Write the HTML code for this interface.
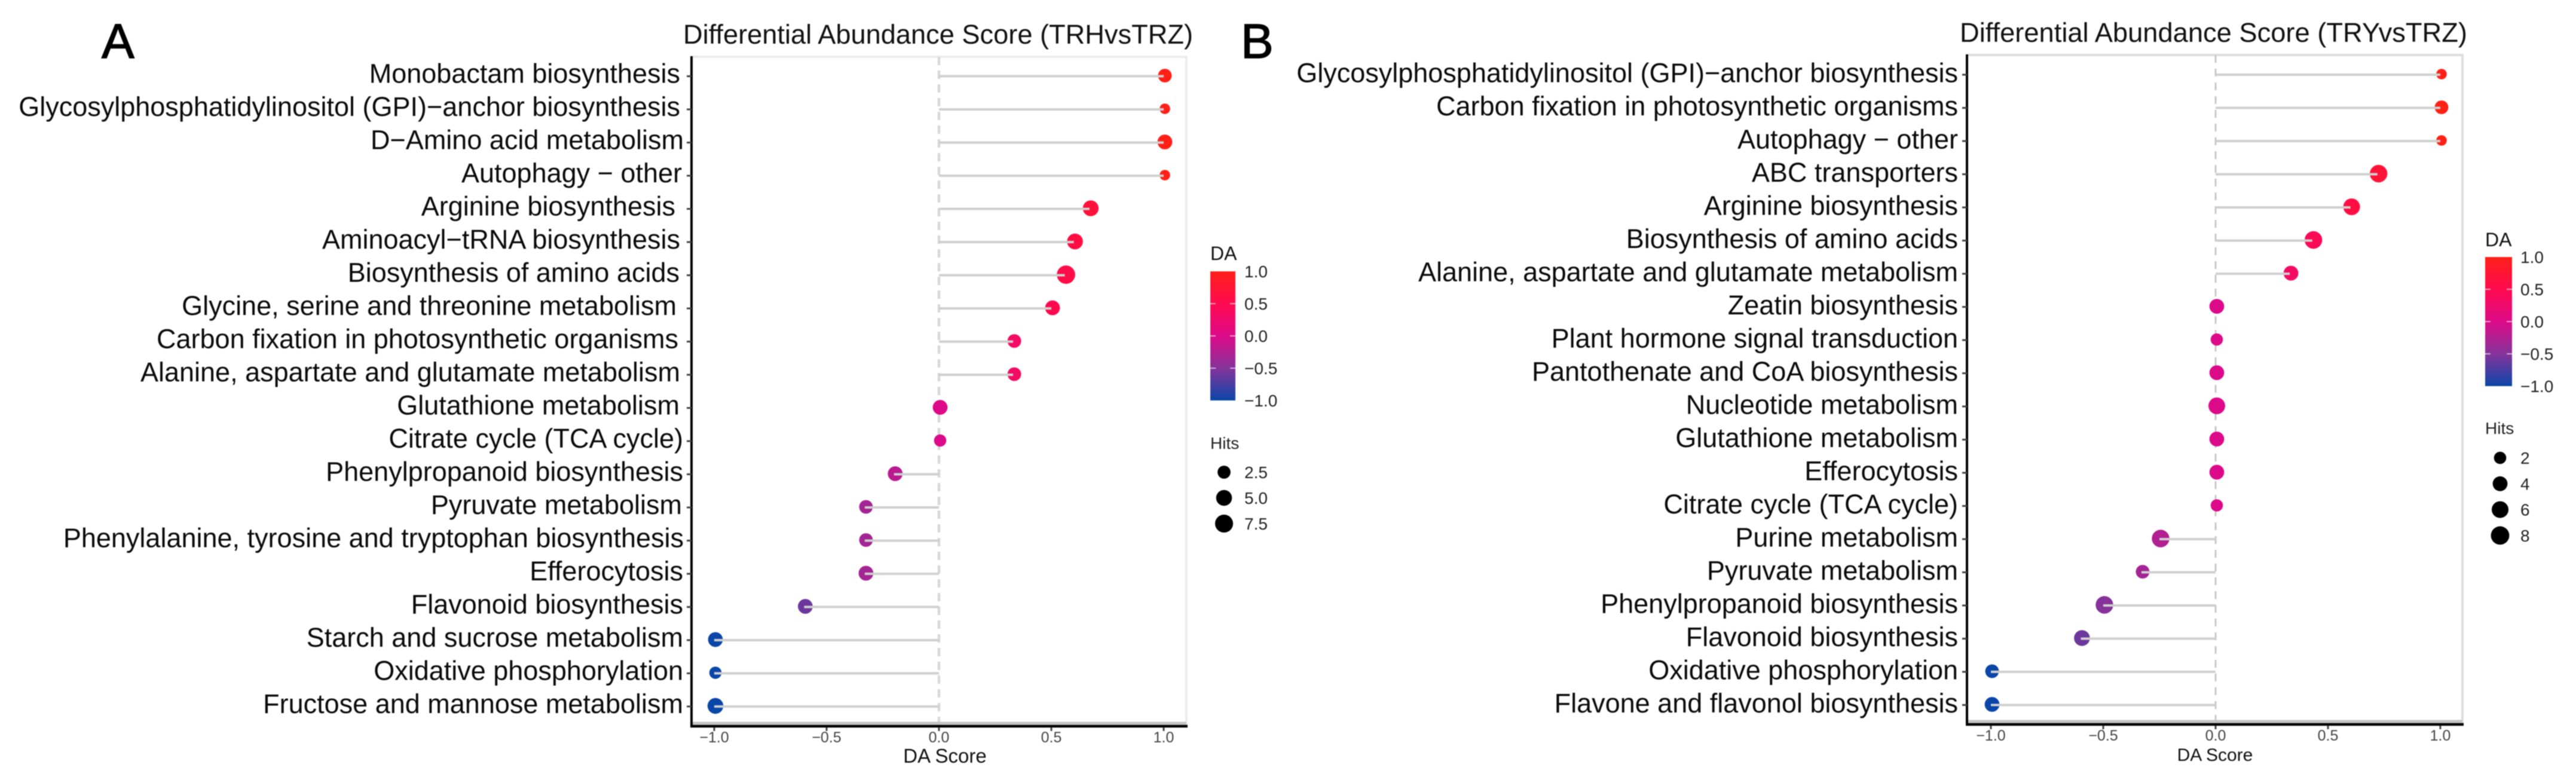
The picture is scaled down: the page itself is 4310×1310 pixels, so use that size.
<!DOCTYPE html>
<html lang="en">
<head>
<meta charset="utf-8">
<title>Differential Abundance Score lollipop charts</title>
<style>
html,body{margin:0;padding:0;background:#fff;width:4310px;height:1310px;overflow:hidden}
svg{display:block;filter:blur(0.7px)}
text{font-family:"Liberation Sans",sans-serif}
</style>
</head>
<body>
<svg id="figure" xmlns="http://www.w3.org/2000/svg" width="4310" height="1310" viewBox="0 0 4310 1310">
  <defs>
    <linearGradient id="da-gradient" x1="0" y1="1" x2="0" y2="0">
      <stop offset="0" stop-color="#0a46a8"/>
      <stop offset="0.25" stop-color="#85339a"/>
      <stop offset="0.5" stop-color="#dc0a88"/>
      <stop offset="0.75" stop-color="#ff0a4f"/>
      <stop offset="1" stop-color="#ff2018"/>
    </linearGradient>
  </defs>
  <rect x="0" y="0" width="4310" height="1310" fill="#fff"/>
</svg>
<script>
// ---- Panel A data ----
const categoriesA = ["Monobactam biosynthesis","Glycosylphosphatidylinositol (GPI)\u2212anchor biosynthesis","D\u2212Amino acid metabolism","Autophagy \u2212 other","Arginine biosynthesis","Aminoacyl\u2212tRNA biosynthesis","Biosynthesis of amino acids","Glycine, serine and threonine metabolism","Carbon fixation in photosynthetic organisms","Alanine, aspartate and glutamate metabolism","Glutathione metabolism","Citrate cycle (TCA cycle)","Phenylpropanoid biosynthesis","Pyruvate metabolism","Phenylalanine, tyrosine and tryptophan biosynthesis","Efferocytosis","Flavonoid biosynthesis","Starch and sucrose metabolism","Oxidative phosphorylation","Fructose and mannose metabolism"];
const scoresA = [1,1,1,1,0.67,0.6,0.56,0.5,0.33,0.33,0,0,-0.2,-0.33,-0.33,-0.33,-0.6,-1,-1,-1];
const hitsA = [3,1,4,1,5,5,8,4,3,3,4,2,4,3,3,4,4,4,2,5];
const legendHitsA = [2.5,5,7.5];
const legendHitLabelsA = ["2.5","5.0","7.5"];

// ---- Panel B data ----
const categoriesB = ["Glycosylphosphatidylinositol (GPI)\u2212anchor biosynthesis","Carbon fixation in photosynthetic organisms","Autophagy \u2212 other","ABC transporters","Arginine biosynthesis","Biosynthesis of amino acids","Alanine, aspartate and glutamate metabolism","Zeatin biosynthesis","Plant hormone signal transduction","Pantothenate and CoA biosynthesis","Nucleotide metabolism","Glutathione metabolism","Efferocytosis","Citrate cycle (TCA cycle)","Purine metabolism","Pyruvate metabolism","Phenylpropanoid biosynthesis","Flavonoid biosynthesis","Oxidative phosphorylation","Flavone and flavonol biosynthesis"];
const scoresB = [1,1,1,0.72,0.6,0.43,0.33,0,0,0,0,0,0,0,-0.25,-0.33,-0.5,-0.6,-1,-1];
const hitsB = [1,3,1,7,6,7,4,4,2,4,6,4,4,2,7,3,7,5,3,4];
const legendHitsB = [2,4,6,8];
const legendHitLabelsB = ["2","4","6","8"];

// ---- Shared axis data ----
const xTicks = [-1,-0.5,0,0.5,1];
const xTickLabels = ["\u22121.0","\u22120.5","0.0","0.5","1.0"];
const colorbarTicks = [1,0.5,0,-0.5,-1];
const colorbarTickLabels = ["1.0","0.5","0.0","\u22120.5","\u22121.0"];
const colorDomain = [-1,-0.5,0,0.5,1];
const colorRange = [[10,70,168],[133,51,154],[220,10,136],[255,10,79],[255,32,24]];

// ---- Scales ----
function colorOf(v){
  for(let i=0;i<colorDomain.length-1;i++){
    if(v<=colorDomain[i+1]){
      const t=(v-colorDomain[i])/(colorDomain[i+1]-colorDomain[i]);
      const c=colorRange[i].map((a,k)=>Math.round(a+(colorRange[i+1][k]-a)*t));
      return 'rgb('+c.join(',')+')';
    }
  }
  return 'rgb('+colorRange[colorRange.length-1].join(',')+')';
}
function radiusOf(h){ return 5.2+3.6*Math.sqrt(h); }

const NS='http://www.w3.org/2000/svg';
const svg=document.getElementById('figure');
function make(parent,tag,attrs,txt){
  const el=document.createElementNS(NS,tag);
  for(const k in attrs) el.setAttribute(k,attrs[k]);
  if(txt!==undefined) el.textContent=txt;
  parent.appendChild(el);
  return el;
}

function drawPanel(p){
  const g=make(svg,'g',{});
  
  
  const xPos=v=>p.x0+p.unit*v;
  const yPos=i=>p.yFirst+p.yStep*i;

  const letter=make(g,'text',{x:p.letterX,y:97,'font-size':82,fill:'#000',stroke:'#000','stroke-width':1.5},p.letter);
  
  

  const title=make(g,'text',{x:p.titleX,y:p.titleY,'font-size':45,fill:'#111',textLength:p.titleW,lengthAdjust:'spacingAndGlyphs'},p.title);
  
  

  // panel border (top, right)
  const border=make(g,'path',{d:'M'+p.left+' '+p.top+'H'+p.right+'V'+p.bottom,fill:'none',stroke:p.borderColor,'stroke-width':p.borderW});
  
  

  // zero reference line
  const zero=make(g,'line',{x1:xPos(0),x2:xPos(0),y1:p.top,y2:p.bottom,stroke:p.dashColor,'stroke-width':p.dashW,'stroke-dasharray':p.dash});
  
  

  // points first, stems above them
  p.scores.forEach((v,i)=>{
    const dot=make(g,'circle',{cx:xPos(v)+2,cy:yPos(i)-1,r:radiusOf(p.hits[i]),fill:colorOf(v)});
    
    
  });
  p.scores.forEach((v,i)=>{
    const stem=make(g,'line',{x1:xPos(0),x2:xPos(v),y1:yPos(i),y2:yPos(i),stroke:'#cfcfcf','stroke-width':4});
    
    
  });

  // axes
  const shade=make(g,'line',{x1:p.left,x2:p.right,y1:p.bottom-3,y2:p.bottom-3,stroke:'#c4c4c4','stroke-width':5});
  
  
  const xAxis=make(g,'line',{x1:p.left-2,x2:p.right+2,y1:p.bottom+2,y2:p.bottom+2,stroke:'#000','stroke-width':4.5});
  
  
  const yAxis=make(g,'line',{x1:p.left,x2:p.left,y1:p.top-1,y2:p.bottom+4,stroke:'#000','stroke-width':4});
  
  

  // y ticks and labels
  p.categories.forEach((c,i)=>{
    const tick=make(g,'line',{x1:p.left-8,x2:p.left,y1:yPos(i),y2:yPos(i),stroke:'#444','stroke-width':3});
    
    
    const lab=make(g,'text',{x:p.labelEdges?p.labelEdges[i]:p.labelEdge,y:yPos(i)+p.labelDy,'font-size':45,'text-anchor':'end',fill:'#0a0a0a'},c);
    
    
  });

  // x ticks and labels
  xTicks.forEach((v,i)=>{
    const tick=make(g,'line',{x1:xPos(v),x2:xPos(v),y1:p.bottom+4,y2:p.bottom+10,stroke:'#444','stroke-width':3});
    
    
    const lab=make(g,'text',{x:xPos(v),y:p.bottom+29,'font-size':25,'text-anchor':'middle',fill:'#444'},xTickLabels[i]);
    
    
  });

  const xTitle=make(g,'text',{x:p.xTitleX,y:p.bottom+63,'font-size':p.xTitleSize,'text-anchor':'middle',fill:'#111'},'DA Score');
  
  

  // colour legend
  const daTitle=make(g,'text',{x:p.barX,y:p.daTitleY,'font-size':32,fill:'#111'},'DA');
  
  
  const bar=make(g,'rect',{x:p.barX,y:p.barTop,width:p.barW,height:p.barH,fill:'url(#da-gradient)'});
  
  
  const barY=v=>p.barTop+(1-v)/2*p.barH;
  colorbarTicks.forEach((v,i)=>{
    if(Math.abs(v)<1){
      const l=make(g,'line',{x1:p.barX,x2:p.barX+9,y1:barY(v),y2:barY(v),stroke:'#fff','stroke-opacity':.6,'stroke-width':2});
      
      
      const r=make(g,'line',{x1:p.barX+p.barW-9,x2:p.barX+p.barW,y1:barY(v),y2:barY(v),stroke:'#fff','stroke-opacity':.6,'stroke-width':2});
      
      
    }
    const lab=make(g,'text',{x:p.legendLabelX,y:barY(v)+10,'font-size':28,fill:'#222'},colorbarTickLabels[i]);
    
    
  });

  // size legend
  const hitsTitle=make(g,'text',{x:p.barX,y:p.hitsTitleY,'font-size':28,fill:'#222'},'Hits');
  
  
  p.legendHits.forEach((h,i)=>{
    const cy=p.legendFirstY+p.legendStep*i;
    const d=make(g,'circle',{cx:p.legendDotX,cy:cy,r:radiusOf(h),fill:'#000'});
    
    
    const lab=make(g,'text',{x:p.legendLabelX,y:cy+10,'font-size':28,fill:'#222'},p.legendLabels[i]);
    
    
  });
}

drawPanel({key:'a',letter:'A',letterX:170,title:'Differential Abundance Score (TRHvsTRZ)',titleX:1143,titleY:73,titleW:853,
  categories:categoriesA,scores:scoresA,hits:hitsA,legendHits:legendHitsA,legendLabels:legendHitLabelsA,
  x0:1571,unit:376,left:1157,right:1985,top:95,bottom:1213,yFirst:127.5,yStep:55.5,labelDy:11,
  labelEdges:[1138,1138,1144,1141,1130,1138,1137,1132,1135,1138,1137,1143,1143,1141,1144,1143,1143,1143,1143,1143],
  borderColor:'#ebebeb',borderW:4,dashColor:'#d8d8d8',dashW:4.5,dash:'14 9',xTitleX:1581,xTitleSize:33,
  barX:2025,barTop:454,barW:42,barH:216,daTitleY:435,legendLabelX:2082,hitsTitleY:751,legendDotX:2048,legendFirstY:790,legendStep:43});

drawPanel({key:'b',letter:'B',letterX:2076,title:'Differential Abundance Score (TRYvsTRZ)',titleX:3279,titleY:70,titleW:849,
  categories:categoriesB,scores:scoresB,hits:hitsB,legendHits:legendHitsB,legendLabels:legendHitLabelsB,
  x0:3707,unit:376,left:3291,right:4120,top:92,bottom:1210,yFirst:125,yStep:55.5,labelDy:12.5,labelEdge:3276,
  borderColor:'#dedede',borderW:4,dashColor:'#c8c8c8',dashW:3,dash:'13 10',xTitleX:3706,xTitleSize:30,
  barX:4158,barTop:430,barW:45,barH:216,daTitleY:412,legendLabelX:4217,hitsTitleY:726,legendDotX:4183,legendFirstY:766,legendStep:43.3});
</script>
</body>
</html>
